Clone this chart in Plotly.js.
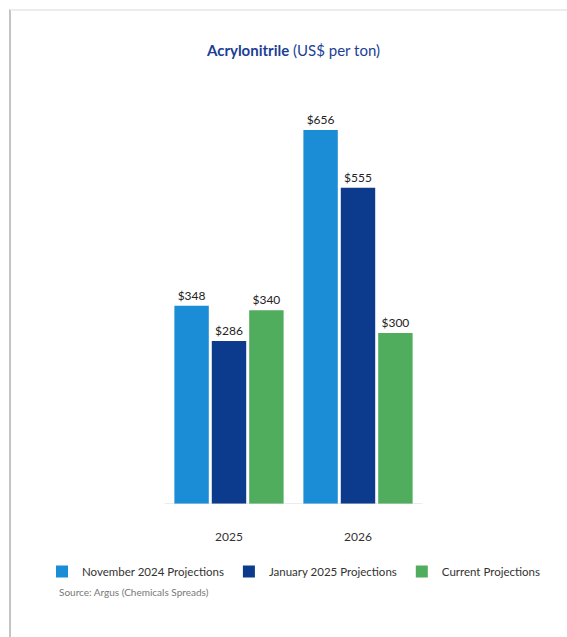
<!DOCTYPE html>
<html>
<head>
<meta charset="utf-8">
<script src="https://cdn.plot.ly/plotly-3.0.1.min.js"></script>
<style>
html,body{margin:0;padding:0;background:#fff;}
#wrap{position:relative;width:567px;height:637px;}
#chart{position:absolute;left:0;top:0;width:567px;height:637px;}
#frame{position:absolute;left:9px;top:9px;width:560px;height:640px;border-left:2px solid #c4c4c4;border-top:2px solid #ececec;pointer-events:none;}
</style>
</head>
<body>
<div id="wrap"><div id="chart"></div><div id="frame"></div></div>
<script>
const categories = ["2025", "2026"];
const seriesNames = ["November 2024 Projections", "January 2025 Projections", "Current Projections"];
const nov2024 = [348, 656];
const jan2025 = [286, 555];
const current = [340, 300];
const colors = ["#1b8dd6", "#0c3a8c", "#4fad5d"];
const values = [nov2024, jan2025, current];

const FONT = "Lato, 'Open Sans', sans-serif";

const ML = 40, MR = 0, PW = 567 - ML - MR;

const traces = values.map((v, i) => ({
  type: "bar",
  name: seriesNames[i],
  x: categories,
  y: v,
  marker: {color: colors[i]},
  text: v.map(n => "$" + n),
  texttemplate: "%{text}",
  textposition: "outside",
  cliponaxis: false,
  textfont: {family: FONT, size: 12, color: "#222"},
  hoverinfo: "x+y"
}));

const layout = {
  width: 567, height: 637,
  margin: {l: ML, r: MR, t: 105, b: 133},
  paper_bgcolor: "rgba(0,0,0,0)",
  plot_bgcolor: "rgba(0,0,0,0)",
  barmode: "group",
  bargap: 0.13,
  bargroupgap: 0.08,
  font: {family: FONT, color: "#333"},
  title: {
    text: "<b>Acrylonitrile</b> (US$ per ton)",
    font: {family: FONT, size: 15, color: "#1c3f94"},
    x: 293.5 / 567, xref: "container", xanchor: "center",
    y: 1 - 51/637, yref: "container", yanchor: "middle"
  },
  xaxis: {
    type: "category",
    range: [-1.4651, 2.6202],
    showline: false,
    showgrid: false, zeroline: false,
    ticks: "", ticklabelstandoff: 24,
    tickfont: {family: FONT, size: 12, color: "#333"}
  },
  yaxis: {
    range: [0, 700], visible: false, showgrid: false, zeroline: false
  },
  shapes: [{
    type: "line", xref: "x", yref: "y",
    x0: -0.5, x1: 1.5, y0: 0, y1: 0,
    line: {color: "#d9d9d9", width: 1}
  }],
  showlegend: true,
  legend: {
    orientation: "h",
    x: 2 / PW, xanchor: "left",
    y: (504 - 557) / 399, yanchor: "top",
    font: {family: FONT, size: 11.5, color: "#333"},
    traceorder: "normal",
    itemwidth: 30
  },
  annotations: [{
    text: "Source: Argus (Chemicals Spreads)",
    xref: "paper", yref: "paper",
    x: (57 - ML) / PW, y: (504 - 592) / 399,
    xanchor: "left", yanchor: "middle",
    showarrow: false,
    font: {family: FONT, size: 10, color: "#777"}
  }]
};

Plotly.newPlot("chart", traces, layout, {displayModeBar: false, staticPlot: true});
</script>
</body>
</html>
